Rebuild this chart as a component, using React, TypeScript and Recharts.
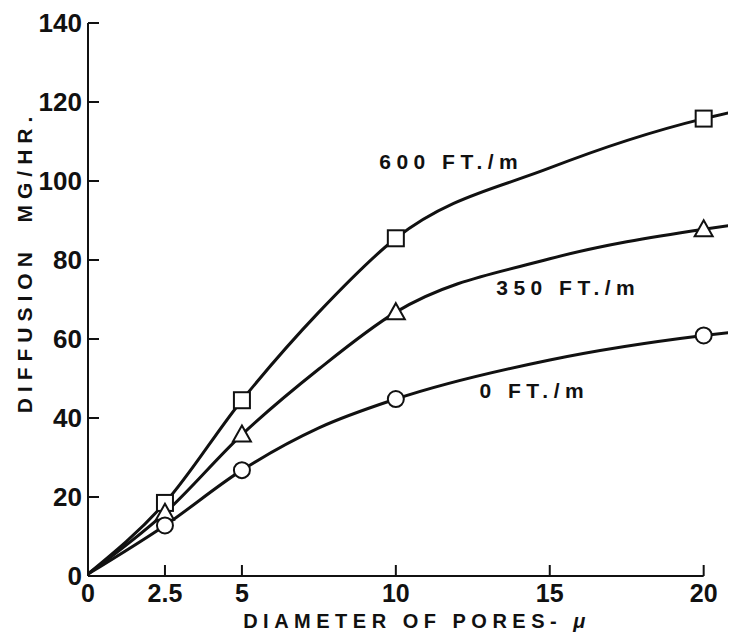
import { LineChart, Line, XAxis, YAxis, ReferenceLine, ReferenceDot } from "recharts";

// pore diameter (micron); 7.5, 15 and 21 are points (no marker)
const diameters = [0, 2.5, 5, 7.5, 10, 15, 20, 21];
const marked = [false, true, true, false, true, false, true, false];

const flow600 = [0.5, 18.5, 44.5, 66.8, 85.5, 103.3, 115.8, 117.6];
const flow350 = [0.5, 16, 35.8, 52.4, 66.8, 80.3, 87.8, 88.9];
const flow0 = [0.5, 12.8, 26.8, 37.5, 44.8, 54.7, 60.9, 61.8];

const xTicks = [0, 2.5, 5, 10, 15, 20];
const yTicks = [0, 20, 40, 60, 80, 100, 120, 140];

const lineLabels = [
  { text: "600 FT./m", x: 11.8, y: 105 },
  { text: "350 FT./m", x: 15.6, y: 73 },
  { text: "0 FT./m", x: 14.5, y: 47 },
];

const data = diameters.map((d, i) => ({
  d,
  f600: flow600[i],
  f350: flow350[i],
  f0: flow0[i],
}));

const FONT = "'Liberation Sans', Arial, sans-serif";
const INK = "#111";

const YTick = ({ x, y, payload }: any) => (
  <g>
    <line x1={x} y1={y} x2={x + 11} y2={y} stroke={INK} strokeWidth={2} />
    <text x={x - 6} y={y + 9} textAnchor="end" fontFamily={FONT} fontWeight={700} fontSize={26} fill={INK}>
      {payload.value}
    </text>
  </g>
);

const XTick = ({ x, y, payload }: any) => (
  <g>
    <line x1={x} y1={y} x2={x} y2={y - 11} stroke={INK} strokeWidth={2} />
    <text x={x} y={y + 26} textAnchor="middle" fontFamily={FONT} fontWeight={700} fontSize={25} fill={INK}>
      {payload.value}
    </text>
  </g>
);

const makeDot = (shape: string) => (props: any) => {
  const { cx, cy, index } = props;
  if (!marked[index]) return <g key={index} />;
  if (shape === "square")
    return <rect key={index} x={cx - 8} y={cy - 8} width={16} height={16} fill="#fff" stroke={INK} strokeWidth={2} />;
  if (shape === "triangle")
    return (
      <polygon
        key={index}
        points={`${cx},${cy - 9} ${cx + 9},${cy + 7} ${cx - 9},${cy + 7}`}
        fill="#fff"
        stroke={INK}
        strokeWidth={2}
      />
    );
  return <circle key={index} cx={cx} cy={cy} r={8} fill="#fff" stroke={INK} strokeWidth={2} />;
};

export default function App() {
  return (
    <div style={{ position: "relative", width: 728, height: 625 }}>
      <LineChart width={728} height={625} data={data} margin={{ top: 15, right: 0, bottom: 0, left: 0 }}>
        <XAxis
          dataKey="d"
          type="number"
          domain={[0, 21.05]}
          ticks={xTicks}
          axisLine={false}
          tickLine={false}
          tickSize={0}
          tickMargin={0}
          tick={<XTick />}
          height={57}
          interval={0}
        />
        <YAxis
          type="number"
          domain={[0, 140]}
          ticks={yTicks}
          axisLine={{ stroke: INK, strokeWidth: 2 }}
          tickLine={false}
          tickSize={0}
          tickMargin={0}
          tick={<YTick />}
          width={80}
          interval={0}
        />
        <ReferenceLine segment={[{ x: 0, y: 0 }, { x: 20, y: 0 }]} stroke={INK} strokeWidth={2} />
        <Line type="monotone" dataKey="f600" stroke={INK} strokeWidth={3} dot={makeDot("square")} isAnimationActive={false} />
        <Line type="monotone" dataKey="f350" stroke={INK} strokeWidth={3} dot={makeDot("triangle")} isAnimationActive={false} />
        <Line type="monotone" dataKey="f0" stroke={INK} strokeWidth={3} dot={makeDot("circle")} isAnimationActive={false} />
        {lineLabels.map((l) => (
          <ReferenceDot
            key={l.text}
            x={l.x}
            y={l.y}
            r={1}
            fill="none"
            stroke="none"
            label={{
              value: l.text,
              position: "center",
              fontFamily: FONT,
              fontWeight: 700,
              fontSize: 21,
              fill: INK,
              letterSpacing: 5.5,
            }}
          />
        ))}
      </LineChart>
      <div
        style={{
          position: "absolute",
          left: 17,
          top: 254,
          transform: "translate(-50%, -50%) rotate(-90deg)",
          fontFamily: FONT,
          fontWeight: 700,
          fontSize: 21,
          letterSpacing: 6,
          whiteSpace: "nowrap",
          color: INK,
        }}
      >
        DIFFUSION&nbsp; MG/HR.
      </div>
      <div
        style={{
          position: "absolute",
          left: 409,
          top: 613,
          transform: "translate(-50%, -50%)",
          fontFamily: FONT,
          fontWeight: 700,
          fontSize: 20,
          letterSpacing: 5.5,
          whiteSpace: "nowrap",
          lineHeight: "22px",
          color: INK,
        }}
      >
        DIAMETER OF PORES- <i>μ</i>
      </div>
    </div>
  );
}
